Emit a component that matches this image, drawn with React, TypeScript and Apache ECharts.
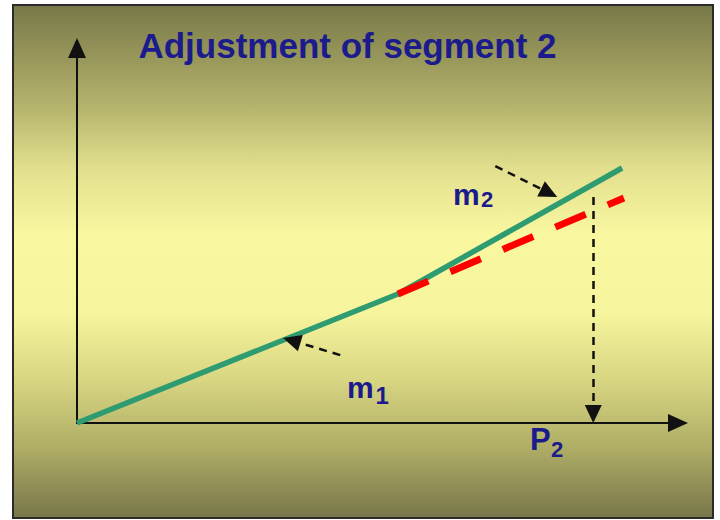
import React, { useEffect, useRef } from "react";
import * as echarts from "echarts";

// Chart content
const titleText = "Adjustment of segment 2";

// Original piecewise-linear curve (segment 1 then segment 2), axis units
const segmentX = [0, 5.34, 9.07];
const segmentY = [0, 3.44, 6.8];

// Segment 2 before adjustment (dashed)
const adjustedX = [5.34, 9.1];
const adjustedY = [3.44, 6.0];

// Slope pointers: [fromX, fromY, tipX, tipY]
const slopeArrowM1 = [4.38, 1.81, 3.43, 2.27];
const slopeArrowM2 = [6.96, 6.85, 7.99, 6.03];

// Projection of the end point onto the pressure axis
const p2X = 8.59;
const p2Top = 6.03;

const FONT = "'Liberation Sans', Arial, Helvetica, sans-serif";
const INK = "#1b1b8c";
const HEAD_LEN = 18;

function label(text: string, x: number, y: number, size: number) {
  return {
    type: "text",
    x,
    y,
    z: 50,
    style: {
      text,
      fontSize: size,
      fontWeight: "bold",
      fontFamily: FONT,
      fill: INK,
      align: "left",
      verticalAlign: "middle",
      textAlign: "left",
      textVerticalAlign: "middle",
    },
  };
}

export default function App() {
  const ref = useRef<HTMLDivElement>(null);

  useEffect(() => {
    if (!ref.current) return;
    const chart = echarts.init(ref.current, null, { renderer: "svg" });

    const zip = (xs: number[], ys: number[]) => xs.map((x, i) => [x, ys[i]]);

    const axisBase = {
      type: "value",
      min: 0,
      max: 10,
      axisLine: {
        show: true,
        symbol: ["none", "triangle"],
        symbolSize: [18, 20],
        lineStyle: { color: "#111111", width: 2 },
      },
      axisTick: { show: false },
      axisLabel: { show: false },
      splitLine: { show: false },
    };

    const option: any = {
      animation: false,
      backgroundColor: "#ffffff",
      grid: { left: 77, top: 48, right: 42, bottom: 97, containLabel: false },
      xAxis: axisBase,
      yAxis: axisBase,
      graphic: [
        {
          type: "rect",
          z: -10,
          shape: { x: 13, y: 5, width: 700, height: 513 },
          style: {
            fill: new echarts.graphic.LinearGradient(0, 0, 0, 1, [
              { offset: 0, color: "#787849" },
              { offset: 0.1, color: "#97965a" },
              { offset: 0.2, color: "#b5b46d" },
              { offset: 0.32, color: "#e2e08e" },
              { offset: 0.45, color: "#f9f7a0" },
              { offset: 0.6, color: "#f6f49c" },
              { offset: 0.73, color: "#d8d682" },
              { offset: 0.86, color: "#b0ae66" },
              { offset: 1, color: "#77764a" },
            ]),
            stroke: "#2b2b2b",
            lineWidth: 2,
          },
        },
        {
          type: "text",
          x: 347.5,
          y: 45,
          z: 50,
          style: {
            text: titleText,
            fontSize: 35,
            fontWeight: "bold",
            fontFamily: FONT,
            fill: INK,
            align: "center",
            verticalAlign: "middle",
            textAlign: "center",
            textVerticalAlign: "middle",
          },
        },
        label("m", 347, 387.6, 30),
        label("1", 375.5, 395.7, 24),
        label("m", 453, 194.6, 30),
        label("2", 481, 199.4, 22),
        label("P", 530, 439.3, 31),
        label("2", 551, 449.4, 22),
      ],
      series: [
        {
          type: "line",
          name: "segments",
          data: zip(segmentX, segmentY),
          showSymbol: false,
          symbol: "none",
          z: 3,
          lineStyle: { color: "#2e9b70", width: 5.5, cap: "butt" },
        },
        {
          type: "line",
          name: "adjusted",
          data: zip(adjustedX, adjustedY),
          showSymbol: false,
          symbol: "none",
          z: 4,
          lineStyle: { color: "#ff0000", width: 7, type: [33, 24], cap: "butt" },
        },
      ],
    };

    chart.setOption(option);

    // The arrow head is centred on the line end, so pull the end back by
    // half a head length so that the tip lands on the requested point.
    const pointer = (fx: number, fy: number, tx: number, ty: number) => {
      const p1 = chart.convertToPixel({ gridIndex: 0 }, [fx, fy]) as number[];
      const p2 = chart.convertToPixel({ gridIndex: 0 }, [tx, ty]) as number[];
      const dx = p2[0] - p1[0];
      const dy = p2[1] - p1[1];
      const len = Math.hypot(dx, dy) || 1;
      const c = [p2[0] - (dx / len) * (HEAD_LEN / 2), p2[1] - (dy / len) * (HEAD_LEN / 2)];
      const end = chart.convertFromPixel({ gridIndex: 0 }, c) as number[];
      return [{ coord: [fx, fy] }, { coord: end }];
    };

    chart.setOption({
      series: [
        {
          name: "segments",
          markLine: {
            silent: true,
            animation: false,
            symbol: ["none", "triangle"],
            symbolSize: [17, HEAD_LEN],
            label: { show: false },
            emphasis: { disabled: true },
            lineStyle: { color: "#111111", width: 2.5, type: [8, 6] },
            data: [
              pointer(slopeArrowM1[0], slopeArrowM1[1], slopeArrowM1[2], slopeArrowM1[3]),
              pointer(slopeArrowM2[0], slopeArrowM2[1], slopeArrowM2[2], slopeArrowM2[3]),
              pointer(p2X, p2Top, p2X, 0),
            ],
          },
        },
      ],
    });

    return () => chart.dispose();
  }, []);

  return (
    <div
      ref={ref}
      style={{ position: "fixed", left: 0, top: 0, width: 720, height: 520 }}
    />
  );
}
